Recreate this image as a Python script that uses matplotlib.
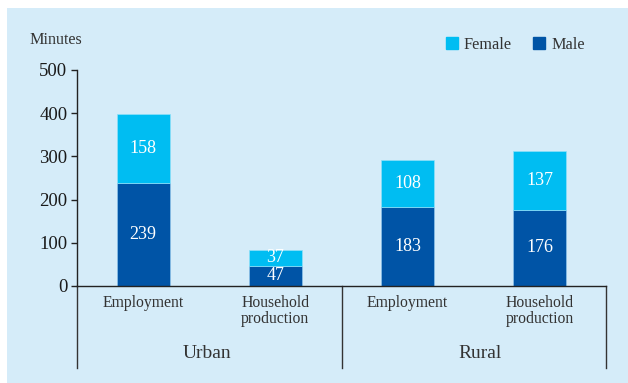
import matplotlib
matplotlib.use("Agg")
import matplotlib.pyplot as plt
from matplotlib.patches import Rectangle
from matplotlib.lines import Line2D

categories = ["Employment", "Household\nproduction", "Employment", "Household\nproduction"]
groups = ["Urban", "Rural"]
male = [239, 47, 183, 176]
female = [158, 37, 108, 137]
yticks = [0, 100, 200, 300, 400, 500]

male_color = "#0054A6"
female_color = "#00BDF2"
bg = "#D5ECF9"
txt = "#333333"

plt.rcParams["font.family"] = ["Liberation Serif", "DejaVu Serif"]

W, H = 628, 383
fig = plt.figure(figsize=(W / 100, H / 100), dpi=100)
fig.patch.set_facecolor("white")
fig.patches.append(Rectangle((7 / W, 0), 1 - 7 / W, 1 - 8 / H, transform=fig.transFigure,
                             facecolor=bg, edgecolor="none", zorder=-10))

ax = fig.add_axes([77 / W, 97 / H, 529 / W, 216 / H])
ax.set_facecolor("none")
x = list(range(len(categories)))
ax.bar(x, male, width=0.4, color=male_color, edgecolor="#8fc3ea", linewidth=0.5, zorder=2)
ax.bar(x, female, bottom=male, width=0.4, color=female_color, edgecolor="#8fe0f8",
       linewidth=0.5, zorder=2)

for xi, m, f in zip(x, male, female):
    ax.text(xi, m / 2, str(m), ha="center", va="center", color="white", fontsize=13, zorder=3)
    ax.text(xi, m + f / 2, str(f), ha="center", va="center", color="white", fontsize=13, zorder=3)

ax.set_xlim(-0.5, 3.5)
ax.set_ylim(0, 500)
ax.set_yticks(yticks)
ax.set_yticklabels([str(v) for v in yticks], fontsize=13.5, color="#1a1a1a")
ax.tick_params(axis="y", length=4, width=1, direction="out", pad=3, color="#222222")
ax.set_xticks([])
for s in ["top", "right"]:
    ax.spines[s].set_visible(False)
ax.spines["left"].set_color("#222222")
ax.spines["bottom"].set_color("#222222")
ax.spines["left"].set_linewidth(1)
ax.spines["bottom"].set_linewidth(1)

# category labels
trans = ax.get_xaxis_transform()
for xi, c in zip(x, categories):
    ax.text(xi, -9 / 216, c, transform=trans, ha="center", va="top", fontsize=11.3,
            color=txt, linespacing=0.97)

# separators below axis
bottom_frac = -(368 - 286) / 216
for xs in [-0.5, 1.5, 3.5]:
    ax.add_line(Line2D([xs, xs], [0, bottom_frac], transform=trans, color="#333333",
                       linewidth=1, clip_on=False))

ax.text(0.48, -68 / 216, groups[0], transform=trans, ha="center", va="center",
        fontsize=14, color=txt)
ax.text(2.55, -68 / 216, groups[1], transform=trans, ha="center", va="center",
        fontsize=14, color=txt)

# y-axis title
fig.text(29 / W, 1 - 40 / H, "Minutes", ha="left", va="center", fontsize=11.6, color=txt)

# legend
handles = [Rectangle((0, 0), 1, 1, color=female_color), Rectangle((0, 0), 1, 1, color=male_color)]
leg = fig.legend(handles, ["Female", "Male"], loc="center left",
                 bbox_to_anchor=(446 / W, 1 - 45 / H), ncol=2, frameon=False,
                 fontsize=11.7, handlelength=0.75, handleheight=0.75, handletextpad=0.35,
                 columnspacing=1.3, borderaxespad=0, borderpad=0)
for t in leg.get_texts():
    t.set_color(txt)

fig.savefig("out.png", dpi=100)
